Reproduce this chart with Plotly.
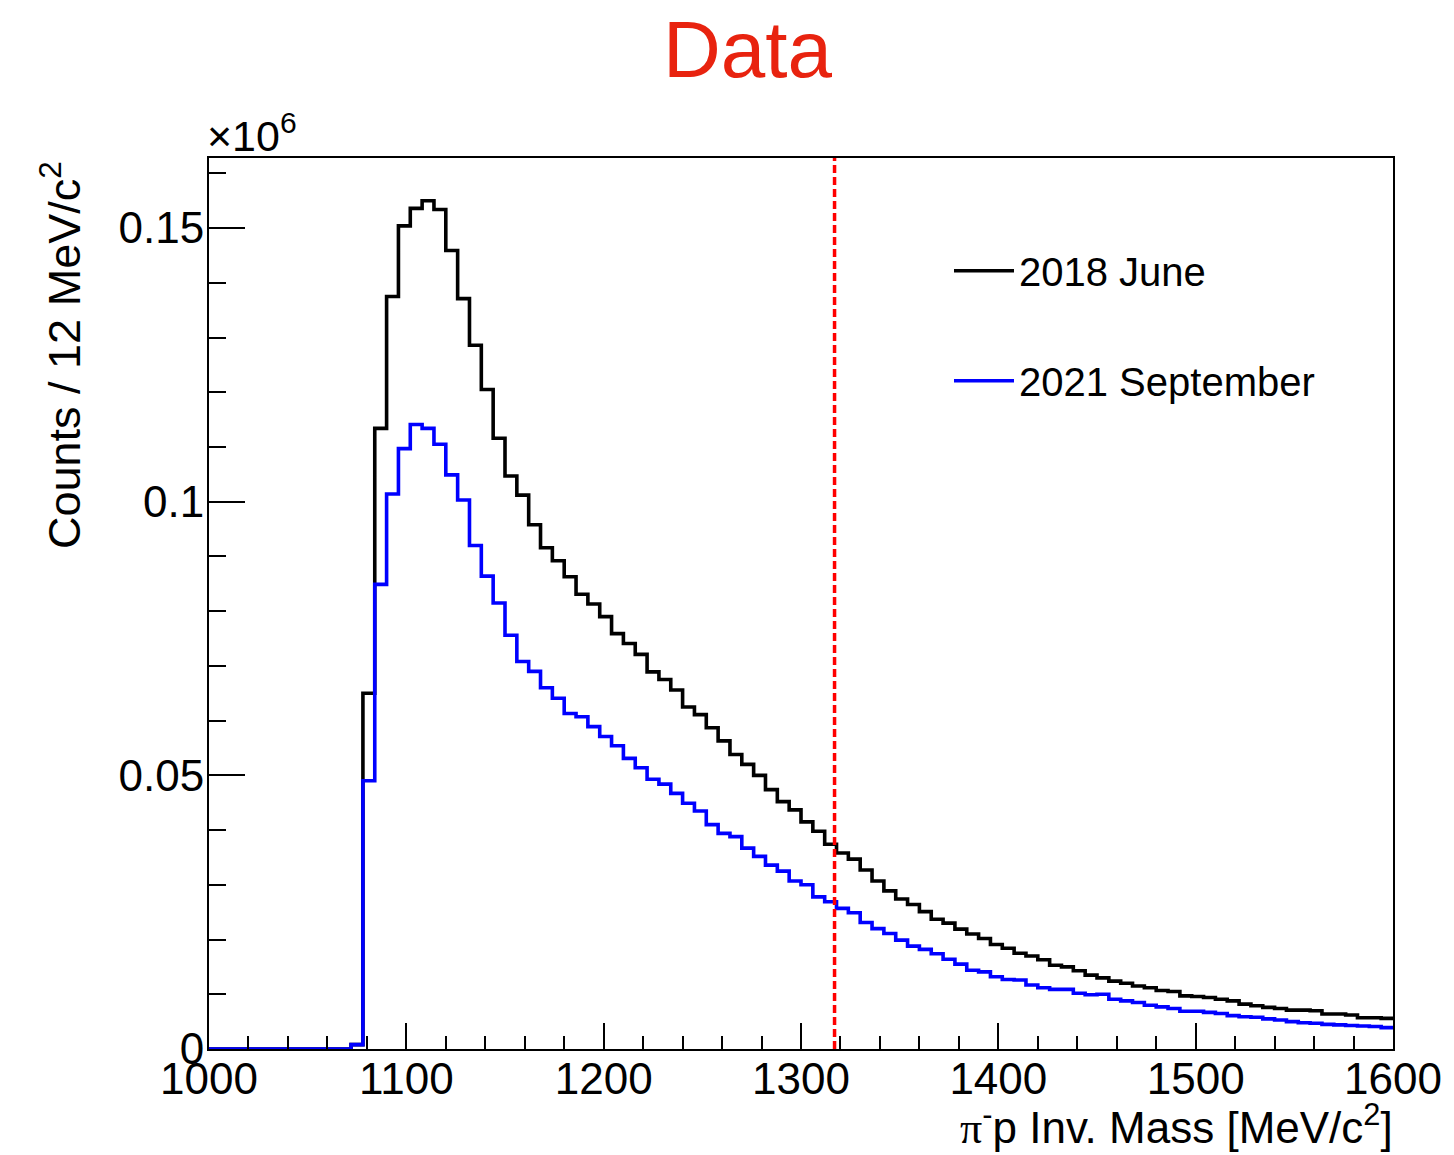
import plotly.graph_objects as go

# ---- data (values in units of 10^6 counts, 6 MeV bins from 1000 to 1600) ----
x_min, x_max, bin_width = 1000, 1600, 6
bin_low_edges = list(range(x_min, x_max, bin_width))

counts_2018_june = [
    0, 0, 0, 0, 0, 0, 0, 0, 0, 0, 0, 0,
    0.0008, 0.065, 0.1134, 0.1375, 0.1504, 0.1536, 0.155, 0.1534,
    0.1459, 0.1371, 0.1286, 0.1205, 0.1116, 0.1047, 0.1012, 0.0958,
    0.0916, 0.0892, 0.0863, 0.0831, 0.0813, 0.079, 0.0759, 0.0741,
    0.0721, 0.0689, 0.0675, 0.0656, 0.0625, 0.0611, 0.0587, 0.0563,
    0.0538, 0.052, 0.05, 0.0474, 0.0452, 0.0437, 0.0415, 0.0398,
    0.0374, 0.0358, 0.0347, 0.0327, 0.0307, 0.0289, 0.0274, 0.0264,
    0.0251, 0.0237, 0.023, 0.0219, 0.021, 0.0202, 0.0191, 0.0184,
    0.0175, 0.017, 0.0163, 0.0153, 0.015, 0.0143, 0.0135, 0.013,
    0.0124, 0.012, 0.0115, 0.0112, 0.0107, 0.0105, 0.0097, 0.0096,
    0.0094, 0.0091, 0.0088, 0.0082, 0.0079, 0.0076, 0.0074, 0.0071,
    0.0071, 0.007, 0.0064, 0.0064, 0.0062, 0.0057, 0.0057, 0.0056,
]

counts_2021_september = [
    0, 0, 0, 0, 0, 0, 0, 0, 0, 0, 0, 0,
    0.0008, 0.049, 0.0849, 0.1014, 0.1097, 0.1141, 0.1134, 0.1105,
    0.1049, 0.1003, 0.092, 0.0864, 0.0815, 0.0756, 0.0708, 0.069,
    0.066, 0.0641, 0.0613, 0.0607, 0.0589, 0.0571, 0.0554, 0.0531,
    0.0514, 0.0493, 0.0484, 0.0467, 0.0449, 0.0435, 0.041, 0.0394,
    0.0388, 0.0367, 0.0352, 0.0336, 0.0325, 0.0307, 0.030, 0.0278,
    0.0269, 0.0257, 0.0249, 0.0231, 0.022, 0.0211, 0.0199, 0.0188,
    0.0182, 0.0174, 0.0164, 0.0155, 0.0144, 0.0141, 0.0132, 0.0127,
    0.0126, 0.0117, 0.0112, 0.0109, 0.0109, 0.0102, 0.0099, 0.010,
    0.0091, 0.0088, 0.0085, 0.008, 0.0077, 0.0074, 0.0069, 0.0069,
    0.0067, 0.0065, 0.0061, 0.0059, 0.0058, 0.0055, 0.0053, 0.005,
    0.0048, 0.0047, 0.0045, 0.0044, 0.0043, 0.0042, 0.0041, 0.0039,
]

series_names = ["2018 June", "2021 September"]
series_colors = ["#000000", "#0000ff"]
cut_mass = 1317
y_tick_values = [0, 0.05, 0.1, 0.15]
y_tick_labels = ["0", "0.05", "0.1", "0.15"]
x_tick_values = [1000, 1100, 1200, 1300, 1400, 1500, 1600]
y_max = 0.1628

FONT = "Liberation Sans, Arial, Helvetica, sans-serif"

fig = go.Figure()
for name, color, vals in zip(series_names, series_colors,
                             [counts_2018_june, counts_2021_september]):
    xs = bin_low_edges + [x_max]
    ys = vals + [vals[-1]]
    fig.add_trace(go.Scatter(
        x=xs, y=ys, mode="lines", name=name, legendgroup=name,
        line=dict(color=color, width=3.6, shape="hv"),
        hoverinfo="skip",
    ))

# vertical dashed cut line
fig.add_shape(type="line", xref="x", yref="y", x0=cut_mass, x1=cut_mass,
              y0=0, y1=y_max, line=dict(color="#ff0000", width=3.5, dash="8px,4px"),
              layer="above")

fig.update_layout(
    width=1454, height=1155,
    margin=dict(l=209, r=58, t=158, b=106),
    plot_bgcolor="white", paper_bgcolor="white",
    font=dict(family=FONT, size=44, color="black"),
    showlegend=True,
    legend=dict(
        x=0.625, y=0.91, xanchor="left", yanchor="top",
        font=dict(size=40, family=FONT),
        bgcolor="rgba(0,0,0,0)", borderwidth=0,
        tracegroupgap=55, itemwidth=60,
    ),
    xaxis=dict(
        range=[x_min, x_max], tickvals=x_tick_values,
        ticks="inside", ticklen=26, tickwidth=2, tickcolor="black",
        minor=dict(ticks="inside", ticklen=13, tickwidth=2, tickcolor="black", dtick=20),
        showline=True, linecolor="black", linewidth=2, mirror=True,
        showgrid=False, zeroline=False,
        tickfont=dict(size=44, family=FONT),
        ticklabelstandoff=-10,
    ),
    yaxis=dict(
        range=[0, y_max], tickvals=y_tick_values, ticktext=y_tick_labels,
        ticks="inside", ticklen=36, tickwidth=2, tickcolor="black",
        minor=dict(ticks="inside", ticklen=17, tickwidth=2, tickcolor="black",
                   tick0=0, dtick=0.01),
        showline=True, linecolor="black", linewidth=2, mirror=True,
        showgrid=False, zeroline=False,
        tickfont=dict(size=44, family=FONT),
        ticklabelstandoff=-6,
    ),
    annotations=[
        dict(text="Data", xref="paper", yref="paper", x=0.455, y=1.0,
             yshift=158 - 3, xanchor="center", yanchor="top", showarrow=False,
             font=dict(size=80, color="#e8230f", family=FONT)),
        dict(text="×10<sup>6</sup>", xref="paper", yref="paper", x=0, y=1,
             xanchor="left", yanchor="bottom", showarrow=False, xshift=-4, yshift=-4,
             font=dict(size=43, family=FONT)),
        dict(text="Counts / 12 MeV/c<sup>2</sup>", xref="paper", yref="paper",
             x=0, y=1, xanchor="center", yanchor="top", textangle=-90,
             xshift=-148, yshift=-1, showarrow=False,
             font=dict(size=45, family=FONT)),
        dict(text='<span style="font-family:Liberation Serif">π</span><sup>-</sup>p Inv. Mass [MeV/c<sup>2</sup>]',
             xref="paper", yref="paper", x=1, y=0, xanchor="right", yanchor="top",
             xshift=2, yshift=-46, showarrow=False, font=dict(size=44, family=FONT)),
    ],
)

fig.write_html("out.html")
